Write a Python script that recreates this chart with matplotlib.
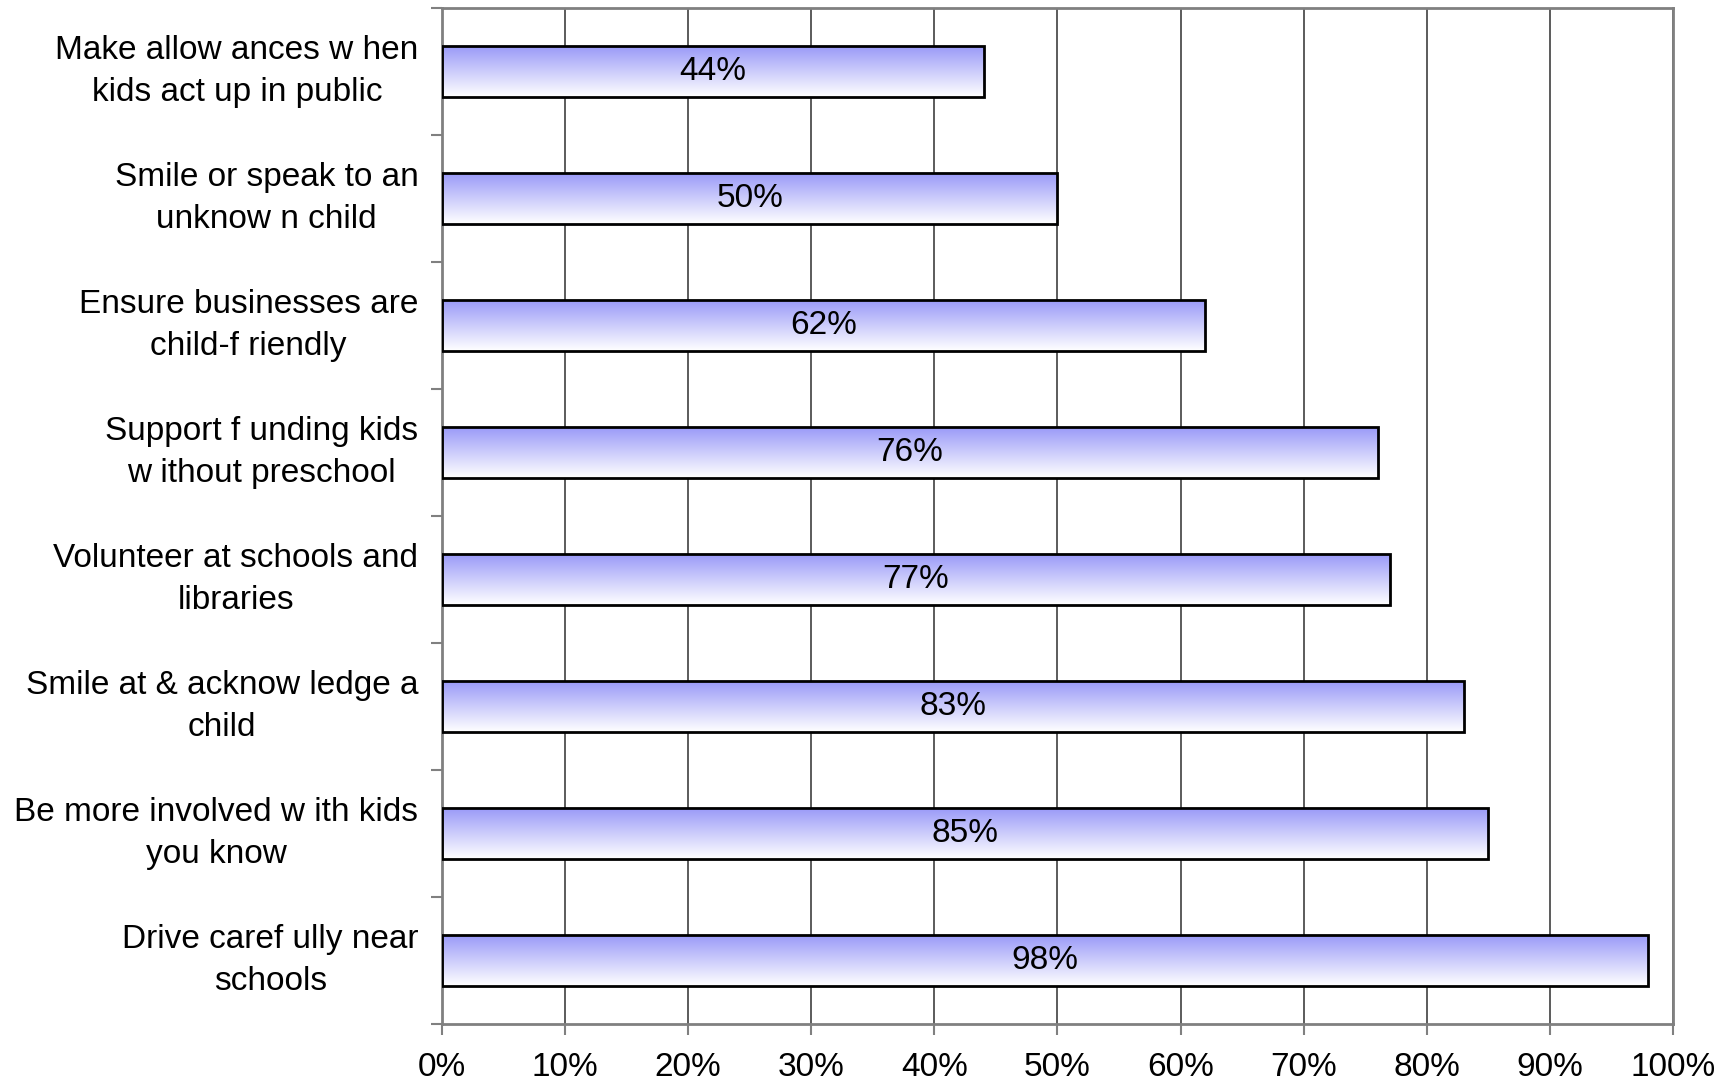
import numpy as np
import matplotlib.pyplot as plt
from matplotlib.colors import LinearSegmentedColormap

labels = [
    "Make allow ances w hen\nkids act up in public",
    "Smile or speak to an\nunknow n child",
    "Ensure businesses are\nchild-f riendly",
    "Support f unding kids\nw ithout preschool",
    "Volunteer at schools and\nlibraries",
    "Smile at & acknow ledge a\nchild",
    "Be more involved w ith kids\nyou know",
    "Drive caref ully near\nschools",
]
values = [44, 50, 62, 76, 77, 83, 85, 98]
xticks = list(range(0, 101, 10))

plt.rcParams['font.family'] = ['Liberation Sans', 'DejaVu Sans']

fig = plt.figure(figsize=(17.32, 10.84), dpi=100)
ax = fig.add_axes([0.2552, 0.0554, 0.9659 - 0.2552, 0.9926 - 0.0554])

grad = LinearSegmentedColormap.from_list("g", ["#ffffff", "#9a9af8"])
gimg = np.linspace(1, 0, 100).reshape(-1, 1)

n = len(values)
ypos = np.arange(n)
h = 0.4
for y, v in zip(ypos, values):
    # gradient fill: blue at top, white at bottom
    ax.imshow(gimg, cmap=grad, aspect='auto', origin='upper',
              extent=[0, v, y + h / 2, y - h / 2], zorder=2)
    ax.barh(y, v, height=h, facecolor='none', edgecolor='black',
            linewidth=2, zorder=3)
    ax.text(v / 2, y, f"{v}%", ha='center', va='center', fontsize=24, zorder=4)

ax.set_xlim(0, 100)
ax.set_ylim(n - 0.5, -0.5)
ax.set_xticks(xticks)
ax.set_xticklabels([f"{t}%" for t in xticks], fontsize=24)
ax.set_yticks(ypos)
ax.set_yticklabels(labels, fontsize=24, multialignment='center',
                   linespacing=1.45, va='center')
ax.tick_params(axis='y', length=0, pad=17)
ax.set_yticks(np.arange(n + 1) - 0.5, minor=True)
ax.tick_params(axis='y', which='minor', length=8, color='#808080', width=1.5)
ax.tick_params(axis='x', length=8, color='#808080', width=1.5, pad=12)

ax.grid(axis='x', color='#404040', linewidth=1.2, zorder=1)
ax.set_axisbelow(True)
for s in ax.spines.values():
    s.set_color('#808080')
    s.set_linewidth(2)

fig.savefig('out.png', dpi=100)
